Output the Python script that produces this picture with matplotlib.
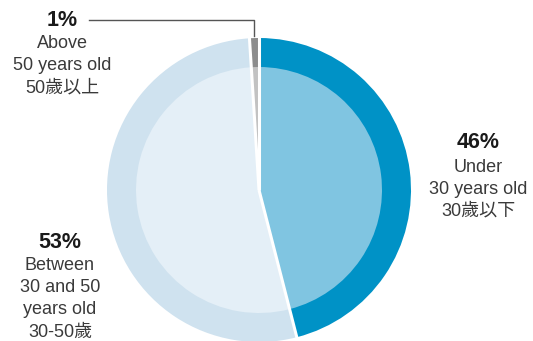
import matplotlib

matplotlib.use("Agg")
import matplotlib.pyplot as plt
import numpy as np

# data
groups = ["Under 30", "30-50", "Above 50"]
shares = [46, 53, 1]
outer_colors = ["#0092c6", "#cfe2ef", "#8c8c8c"]
inner_colors = ["#80c5e1", "#e4eff7", "#c2c2c2"]
pct_labels = ["46%", "53%", "1%"]
body_labels = [
    ["Under", "30 years old", "30歲以下"],
    ["Between", "30 and 50", "years old", "30-50歲"],
    ["Above", "50 years old", "50歲以上"],
]

W, H = 533, 341
CX, CY = 259, H - 190
R_OUT, R_IN = 152, 123

plt.rcParams["font.family"] = ["Liberation Sans", "Noto Sans CJK TC", "DejaVu Sans"]

fig = plt.figure(figsize=(W / 100, H / 100), dpi=100)
ax = fig.add_axes([0, 0, 1, 1])
ax.set_xlim(0, W)
ax.set_ylim(0, H)
ax.set_aspect("equal")
ax.axis("off")

ax.pie(shares, colors=outer_colors, radius=R_OUT, center=(CX, CY),
       startangle=90, counterclock=False, wedgeprops=dict(linewidth=0))
ax.pie(shares, colors=inner_colors, radius=R_IN, center=(CX, CY),
       startangle=90, counterclock=False, wedgeprops=dict(linewidth=0))

# white radial separators between slices
bounds = np.cumsum([0] + shares[:-1]) / sum(shares)
for b in bounds:
    ang = np.deg2rad(90 - 360 * b)
    ax.plot([CX, CX + (R_OUT + 2) * np.cos(ang)], [CY, CY + (R_OUT + 2) * np.sin(ang)],
            color="white", lw=2.2, solid_capstyle="butt")

ax.set_xlim(0, W)
ax.set_ylim(0, H)

# label anchors (x, y of percent line, in pixel coords from top)
anchors = [(478, 143), (60, 242), (62, 20)]
for (x, y), pct, body in zip(anchors, pct_labels, body_labels):
    ax.text(x, H - y, pct, ha="center", va="center", fontsize=15.5,
            fontweight="bold", color="#1a1a1a")
    for i, line in enumerate(body):
        ax.text(x, H - (y + 24 + 22 * i), line, ha="center", va="center",
                fontsize=13, color="#3a3a3a")

# leader line for the 1% slice
ax.plot([89, 254, 254], [H - 20, H - 20, H - 36], color="#555555", lw=1)

fig.savefig("out.png", dpi=100)
